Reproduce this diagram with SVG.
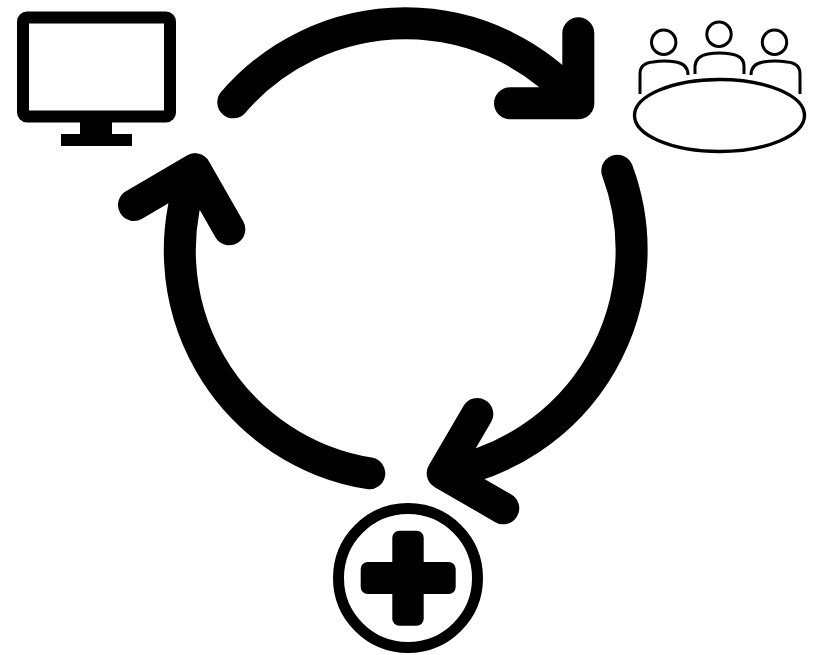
<svg xmlns="http://www.w3.org/2000/svg" width="814" height="655" viewBox="0 0 814 655">
  <style>
    .arrow { fill: none; stroke: #000; stroke-width: 32; stroke-linecap: round; stroke-linejoin: round; }
    .thin { fill: none; stroke: #000; stroke-width: 3; }
  </style>
  <rect width="814" height="655" fill="#fff"/>
  <g id="connectors">
    <path class="arrow" d="M233.300 102.300 A227 227 0 0 1 578.300 103.300 M578.300 33.300 V103.300 H510"/>
    <path class="arrow" d="M617.300 170.700 A226.500 226.500 0 0 1 442.700 473.300 M477.300 414 L442.700 473.300 L503.300 508.300"/>
    <path class="arrow" d="M369.300 473.300 A225.500 225.500 0 0 1 195 169.300 M134 205 L195 169.300 L229.300 229.300"/>
  </g>
  <g id="monitor">
    <rect x="23" y="17.500" width="147" height="99" rx="4" fill="none" stroke="#000" stroke-width="12"/>
    <path d="M80 122 H112 V134 H132 V146 H61 V134 H80 Z" fill="#000"/>
  </g>
  <g id="meeting">
    <circle class="thin" cx="663.700" cy="42.300" r="12.200"/>
    <circle class="thin" cx="719" cy="34.300" r="12.200"/>
    <circle class="thin" cx="774.500" cy="42.300" r="12.200"/>
    <path class="thin" d="M640 94 V74 Q640 63 653 62 Q664 60 676 62 Q688 64 688 75"/>
    <path class="thin" d="M695 74 V66 Q696 56 708 54 Q719 52 731 54 Q744 56 744 66 V74"/>
    <path class="thin" d="M751 75 Q751 64 763 62 Q775 60 787 62 Q800 63 800 74 V94"/>
    <ellipse cx="719.500" cy="115.500" rx="85" ry="36" fill="#fff" stroke="#000" stroke-width="3.400"/>
  </g>
  <g id="medical">
    <circle cx="408" cy="578" r="69.500" fill="none" stroke="#000" stroke-width="11"/>
    <rect x="392.300" y="530.700" width="31.400" height="95" rx="7" fill="#000"/>
    <rect x="360.700" y="562" width="95" height="32" rx="7" fill="#000"/>
  </g>
</svg>
